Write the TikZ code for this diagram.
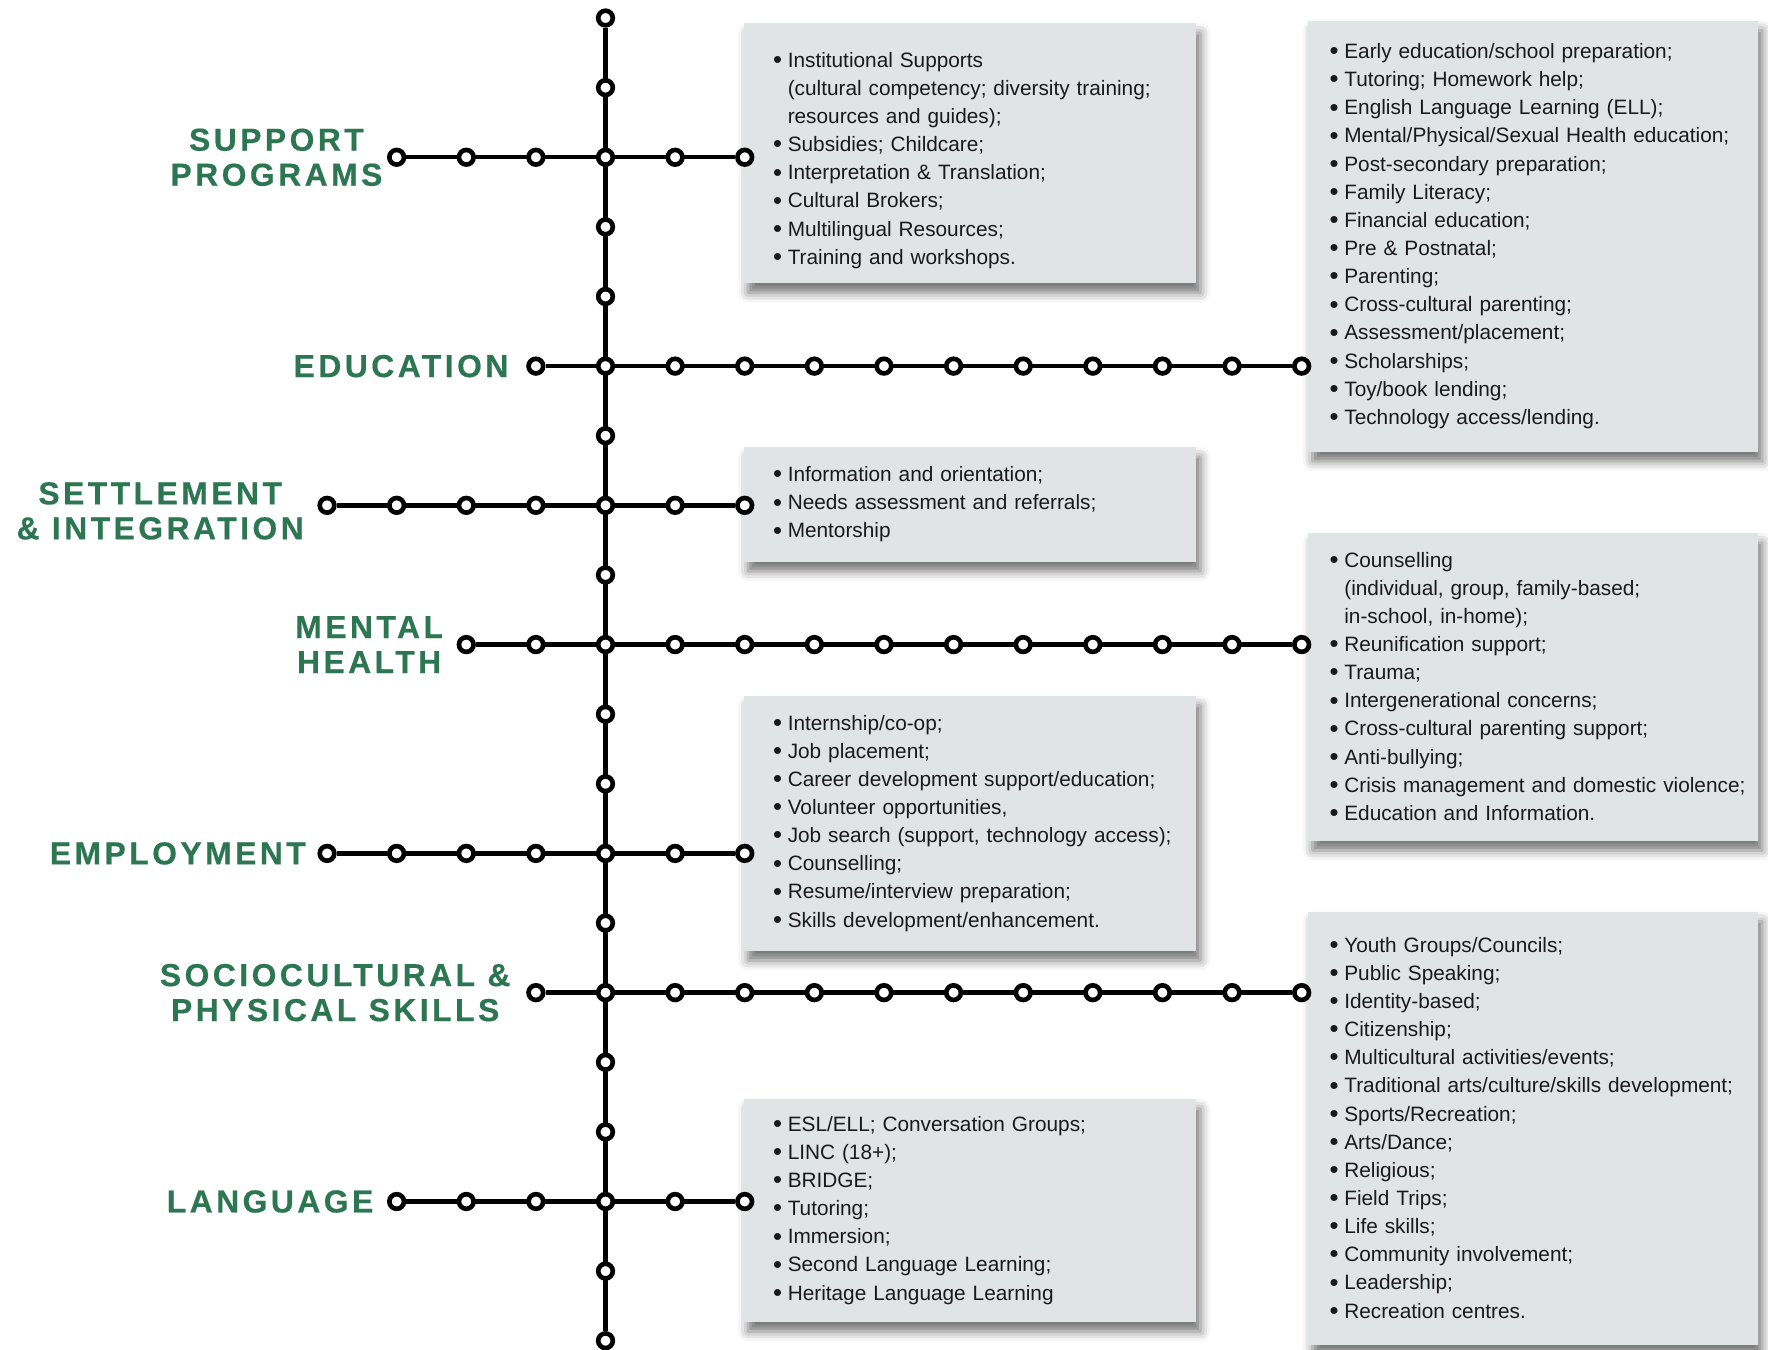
\documentclass[tikz,border=0pt]{standalone}
\usepackage{fontspec}
\setmainfont{Liberation Sans}
\newfontfamily\labelfont{Liberation Sans}[LetterSpace=11, FakeBold=0.5]
\usepackage{xcolor}
\usepackage{tikz}
\usetikzlibrary{positioning, backgrounds, shadows.blur}

\definecolor{linegreen}{RGB}{45,118,82}
\definecolor{boxgrey}{RGB}{225,228,229}

\newcommand{\itm}[1]{\mbox{\makebox[6pt][l]{\raisebox{-0.5pt}{%
  \fontsize{10.5}{10.5}\selectfont\textbullet}}#1}}
\newcommand{\cnt}[1]{\mbox{\hspace*{6pt}#1}}

\begin{document}
\begin{tikzpicture}[
      stn/.style={circle, draw, line width=1.9pt, fill=white,
        minimum size=0.21cm, inner sep=0pt},
      track/.style={line width=1.8pt},
      lbl/.style={font=\labelfont\bfseries\fontsize{13}{14.3}\selectfont,
        text=linegreen, align=center, inner sep=0pt},
      infobox/.style={fill=boxgrey, anchor=north west, align=left,
        minimum width=6.46cm, text width=5.66cm, inner xsep=0.42cm,
        font=\fontsize{8.5}{11.5}\selectfont, text=black!90,
        blur shadow={shadow xshift=0.06cm, shadow yshift=-0.14cm,
          shadow blur radius=0.14cm, shadow opacity=55}},
      widebox/.style={infobox, text width=5.85cm, inner xsep=0.3cm}
    ]
    \useasboundingbox (-8.698,0.259) rectangle (16.699,-19.129);

    \node[infobox, minimum height=3.73cm] (spbox) at (1.98,-0.07) {%
      \itm{\rule{0pt}{12pt}Institutional Supports}\\
      \cnt{(cultural competency; diversity training;}\\
      \cnt{resources and guides);}\\
      \itm{Subsidies; Childcare;}\\
      \itm{Interpretation \& Translation;}\\
      \itm{Cultural Brokers;}\\
      \itm{Multilingual Resources;}\\
      \itm{Training and workshops.}};
    \node[widebox, minimum height=6.19cm] (edbox) at (10.09,-0.03) {%
      \itm{Early education/school preparation;}\\
      \itm{Tutoring; Homework help;}\\
      \itm{English Language Learning (ELL);}\\
      \itm{Mental/Physical/Sexual Health education;}\\
      \itm{Post-secondary preparation;}\\
      \itm{Family Literacy;}\\
      \itm{Financial education;}\\
      \itm{Pre \& Postnatal;}\\
      \itm{Parenting;}\\
      \itm{Cross-cultural parenting;}\\
      \itm{Assessment/placement;}\\
      \itm{Scholarships;}\\
      \itm{Toy/book lending;}\\
      \itm{Technology access/lending.}};
    \node[infobox, minimum height=1.64cm] (sibox) at (1.98,-6.16) {%
      \itm{Information and orientation;}\\
      \itm{Needs assessment and referrals;}\\
      \itm{Mentorship}};
    \node[widebox, minimum height=4.42cm] (mhbox) at (10.09,-7.39) {%
      \itm{Counselling}\\
      \cnt{(individual, group, family-based;}\\
      \cnt{in-school, in-home);}\\
      \itm{Reunification support;}\\
      \itm{Trauma;}\\
      \itm{Intergenerational concerns;}\\
      \itm{Cross-cultural parenting support;}\\
      \itm{Anti-bullying;}\\
      \itm{Crisis management and domestic violence;}\\
      \itm{Education and Information.}};
    \node[infobox, minimum height=3.66cm] (embox) at (1.98,-9.73) {%
      \itm{Internship/co-op;}\\
      \itm{Job placement;}\\
      \itm{Career development support/education;}\\
      \itm{Volunteer opportunities,}\\
      \itm{Job search (support, technology access);}\\
      \itm{Counselling;}\\
      \itm{Resume/interview preparation;}\\
      \itm{Skills development/enhancement.}};
    \node[widebox, minimum height=6.22cm] (scbox) at (10.09,-12.83) {%
      \itm{Youth Groups/Councils;}\\
      \itm{Public Speaking;}\\
      \itm{Identity-based;}\\
      \itm{Citizenship;}\\
      \itm{Multicultural activities/events;}\\
      \itm{Traditional arts/culture/skills development;}\\
      \itm{Sports/Recreation;}\\
      \itm{Arts/Dance;}\\
      \itm{Religious;}\\
      \itm{Field Trips;}\\
      \itm{Life skills;}\\
      \itm{Community involvement;}\\
      \itm{Leadership;}\\
      \itm{Recreation centres.}};
    \node[infobox, minimum height=3.2cm] (labox) at (1.98,-15.52) {%
      \itm{ESL/ELL; Conversation Groups;}\\
      \itm{LINC (18+);}\\
      \itm{BRIDGE;}\\
      \itm{Tutoring;}\\
      \itm{Immersion;}\\
      \itm{Second Language Learning;}\\
      \itm{Heritage Language Learning}};

    % trunk and branch stations
    \foreach \i in {0,...,19}
      \node[stn] (t\i) at (0,-\i) {};
    \foreach \nm/\row/\from/\to in {sp/2/-3/2, ed/5/-1/10, si/7/-4/2,
        mh/9/-2/10, em/12/-4/2, sc/14/-1/10, la/17/-3/2}
      \foreach \c in {\from,...,\to}{
        \ifnum\c=0 \else \node[stn] (\nm\c) at (\c,-\row) {}; \fi
      }

    \begin{scope}[on background layer]
      \draw[track] (t0) -- (t19);
      \foreach \nm/\from/\to in {sp/-3/2, ed/-1/10, si/-4/2, mh/-2/10,
          em/-4/2, sc/-1/10, la/-3/2}
        \draw[track] (\nm\from) -- (\nm\to);
    \end{scope}

    \node[lbl, left=0.06cm of sp-3] (splbl) {SUPPORT\\PROGRAMS};
    \node[lbl, left=0.25cm of ed-1] (edlbl) {EDUCATION};
    \node[lbl, left=0.19cm of si-4, yshift=-0.08cm] (silbl)
      {SETTLEMENT\\\& INTEGRATION};
    \node[lbl, left=0.19cm of mh-2] (mhlbl) {MENTAL\\HEALTH};
    \node[lbl, left=0.16cm of em-4] (emlbl) {EMPLOYMENT};
    \node[lbl, left=0.22cm of sc-1] (sclbl)
      {SOCIOCULTURAL \&\\PHYSICAL SKILLS};
    \node[lbl, left=0.19cm of la-3] (lalbl) {LANGUAGE};
  \end{tikzpicture}
\end{document}
